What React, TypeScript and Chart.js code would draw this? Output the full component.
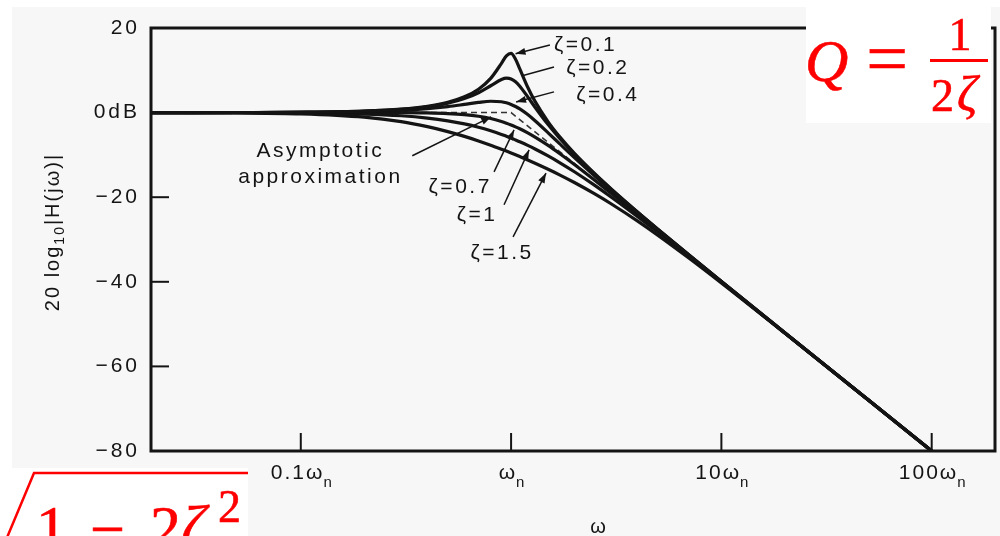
import React, { useEffect, useRef } from 'react';
import { Chart, registerables } from 'chart.js';

Chart.register(...registerables);

// ---- data ----
const frequencies = [0.0194, 0.05, 0.1, 0.2, 0.3, 0.4, 0.5, 0.6, 0.7, 0.8, 0.9, 0.95, 1.0, 1.05, 1.1, 1.2, 1.3, 1.5, 1.7, 2, 2.5, 3, 4, 5, 7, 10, 20, 50, 100];
const zeta01 = [0.0, 0.02, 0.09, 0.35, 0.8, 1.48, 2.42, 3.73, 5.53, 8.09, 11.64, 13.41, 13.98, 12.63, 10.34, 6.0, 2.65, -2.18, -5.67, -9.62, -14.44, -18.09, -23.53, -27.61, -33.63, -39.92, -52.02, -67.96, -80.0];
const zeta02 = [0.0, 0.02, 0.08, 0.33, 0.74, 1.36, 2.2, 3.31, 4.7, 6.35, 7.81, 8.13, 7.96, 7.28, 6.24, 3.73, 1.27, -2.84, -6.06, -9.84, -14.56, -18.16, -23.57, -27.63, -33.64, -39.92, -52.02, -67.96, -80.0];
const zeta04 = [0.0, 0.02, 0.06, 0.24, 0.53, 0.93, 1.41, 1.94, 2.41, 2.68, 2.56, 2.31, 1.94, 1.45, 0.87, -0.47, -1.93, -4.78, -7.34, -10.63, -14.99, -18.44, -23.72, -27.72, -33.68, -39.94, -52.03, -67.96, -80.0];
const zeta07 = [0.0, 0.0, 0.0, 0.0, -0.02, -0.08, -0.22, -0.47, -0.87, -1.41, -2.11, -2.5, -2.92, -3.37, -3.83, -4.79, -5.79, -7.76, -9.66, -12.26, -16.0, -19.12, -24.09, -27.96, -33.8, -40.0, -52.04, -67.96, -80.0];
const zeta10 = [0.0, -0.02, -0.09, -0.34, -0.75, -1.29, -1.94, -2.67, -3.46, -4.3, -5.15, -5.59, -6.02, -6.46, -6.89, -7.75, -8.6, -10.24, -11.8, -13.98, -17.21, -20.0, -24.61, -28.3, -33.98, -40.09, -52.06, -67.96, -80.0];
const zeta15 = [-0.01, -0.08, -0.29, -1.08, -2.14, -3.32, -4.49, -5.62, -6.69, -7.7, -8.65, -9.1, -9.54, -9.97, -10.39, -11.19, -11.96, -13.39, -14.71, -16.53, -19.23, -21.61, -25.67, -29.04, -34.39, -40.29, -52.12, -67.97, -80.0];
const asymptoteFreqs = [0.0194, 1, 100];
const asymptoteDb = [0, 0, -80];

const yTickValues = [20, 0, -20, -40, -60, -80];
const yTickLabels = ['20', '0dB', '\u221220', '\u221240', '\u221260', '\u221280'];
const xTickValues = [0.1, 1, 10, 100];
const xTickPrefixes = ['0.1', '', '10', '100'];
const xTickSymbol = '\u03c9';
const xTickSubscript = 'n';
const xTitle = '\u03c9';
const yTitleRuns = [
  { t: '20 log', sub: false },
  { t: '10', sub: true },
  { t: '|H(j\u03c9)|', sub: false },
];

// annotations anchored in data coordinates [frequency, dB]
const curveLabels = [
  { lines: ['\u03b6=0.1'], at: [1.6, 16.0], align: 'left', from: [1.53, 16.0], to: [1.05, 13.9], head: true },
  { lines: ['\u03b6=0.2'], at: [1.83, 10.6], align: 'left', from: [1.6, 10.8], to: [1.13, 8.7], head: false },
  { lines: ['\u03b6=0.4'], at: [2.04, 4.2], align: 'left', from: [1.6, 4.9], to: [1.056, 2.5], head: true },
  { lines: ['\u03b6=0.7'], at: [0.573, -17.6], align: 'center', from: [0.83, -14.0], to: [1.033, -4.1], head: true },
  { lines: ['\u03b6=1'], at: [0.689, -24.2], align: 'center', from: [0.926, -21.8], to: [1.218, -8.8], head: true },
  { lines: ['\u03b6=1.5'], at: [0.906, -33.2], align: 'center', from: [1.022, -29.4], to: [1.466, -14.3], head: true },
  { lines: ['Asymptotic', 'approximation'], at: [0.124, -9.2], align: 'center', from: [0.339, -10.2], to: [0.804, -1.0], head: true },
];

const W = 1000;
const H = 536;
const INK = '#141414';
const SANS = '"Liberation Sans", Arial, Helvetica, sans-serif';
const SERIF = '"Liberation Serif", "DejaVu Serif", serif';

function makeSeries(values: number[]) {
  return frequencies.map((f, i) => ({ x: f, y: values[i] }));
}

function drawArrow(ctx: CanvasRenderingContext2D, x1: number, y1: number, x2: number, y2: number, head: boolean) {
  ctx.save();
  ctx.strokeStyle = INK;
  ctx.fillStyle = INK;
  ctx.lineWidth = 1.5;
  ctx.beginPath();
  ctx.moveTo(x1, y1);
  ctx.lineTo(x2, y2);
  ctx.stroke();
  if (head) {
    const a = Math.atan2(y2 - y1, x2 - x1);
    const L = 10;
    const w = 3.5;
    ctx.beginPath();
    ctx.moveTo(x2, y2);
    ctx.lineTo(x2 - L * Math.cos(a) + w * Math.sin(a), y2 - L * Math.sin(a) - w * Math.cos(a));
    ctx.lineTo(x2 - L * Math.cos(a) - w * Math.sin(a), y2 - L * Math.sin(a) + w * Math.cos(a));
    ctx.closePath();
    ctx.fill();
  }
  ctx.restore();
}

// text with an optional thin outline to match heavier scanned lettering
function inkText(ctx: CanvasRenderingContext2D, s: string, x: number, y: number, outline = 0) {
  ctx.fillText(s, x, y);
  if (outline > 0) {
    ctx.lineWidth = outline;
    ctx.strokeStyle = ctx.fillStyle as string;
    ctx.strokeText(s, x, y);
  }
}

const decoPlugin = {
  id: 'deco',
  beforeDraw(chart: any) {
    const ctx: CanvasRenderingContext2D = chart.ctx;
    ctx.save();
    ctx.fillStyle = '#ffffff';
    ctx.fillRect(0, 0, W, H);
    ctx.fillStyle = '#f7f7f7';
    ctx.fillRect(12, 7, W - 12, H - 7);
    ctx.restore();
    (ctx as any).letterSpacing = '3px';
  },
  afterDraw(chart: any) {
    const ctx: CanvasRenderingContext2D = chart.ctx;
    const xs = chart.scales.x;
    const ys = chart.scales.y;
    const area = chart.chartArea;
    const px = (v: number) => xs.getPixelForValue(v);
    const py = (v: number) => ys.getPixelForValue(v);

    ctx.save();
    (ctx as any).letterSpacing = '0px';

    // frame
    ctx.strokeStyle = INK;
    ctx.lineWidth = 3;
    ctx.strokeRect(area.left, area.top, area.right - area.left, area.bottom - area.top);

    // inward ticks
    ctx.lineWidth = 2;
    [-20, -40, -60].forEach((v) => {
      ctx.beginPath();
      ctx.moveTo(area.left, py(v));
      ctx.lineTo(area.left + 18, py(v));
      ctx.stroke();
    });
    xTickValues.forEach((v) => {
      ctx.beginPath();
      ctx.moveTo(px(v), area.bottom);
      ctx.lineTo(px(v), area.bottom - 18);
      ctx.stroke();
    });

    // x tick labels with subscript
    ctx.fillStyle = INK;
    ctx.textBaseline = 'alphabetic';
    ctx.textAlign = 'left';
    xTickValues.forEach((v, i) => {
      (ctx as any).letterSpacing = '2px';
      ctx.font = `21px ${SANS}`;
      const main = xTickPrefixes[i] + xTickSymbol;
      const mw = ctx.measureText(main).width;
      ctx.font = `15px ${SANS}`;
      const sw = ctx.measureText(xTickSubscript).width;
      const total = mw + sw;
      const x0 = px(v) - total / 2 + 2;
      ctx.font = `21px ${SANS}`;
      inkText(ctx, main, x0, 479);
      ctx.font = `15px ${SANS}`;
      inkText(ctx, xTickSubscript, x0 + mw - 1, 487);
    });

    // x title
    (ctx as any).letterSpacing = '0px';
    ctx.font = `20px ${SANS}`;
    ctx.textAlign = 'center';
    inkText(ctx, xTitle, 598, 533);

    // y title (rotated, with subscript)
    ctx.save();
    ctx.translate(59, 232);
    ctx.rotate(-Math.PI / 2);
    (ctx as any).letterSpacing = '2px';
    ctx.textAlign = 'left';
    let tw = 0;
    yTitleRuns.forEach((r) => {
      ctx.font = r.sub ? `14px ${SANS}` : `20px ${SANS}`;
      tw += ctx.measureText(r.t).width;
    });
    let cx = -tw / 2;
    yTitleRuns.forEach((r) => {
      ctx.font = r.sub ? `14px ${SANS}` : `20px ${SANS}`;
      inkText(ctx, r.t, cx, r.sub ? 5 : 0);
      cx += ctx.measureText(r.t).width;
    });
    ctx.restore();

    // curve labels and leader lines
    curveLabels.forEach((a) => {
      drawArrow(ctx, px(a.from[0]), py(a.from[1]), px(a.to[0]), py(a.to[1]), a.head);
      ctx.save();
      (ctx as any).letterSpacing = '2.5px';
      ctx.font = `21px ${SANS}`;
      ctx.fillStyle = INK;
      ctx.textAlign = a.align as CanvasTextAlign;
      ctx.textBaseline = 'middle';
      a.lines.forEach((line, k) => {
        inkText(ctx, line, px(a.at[0]), py(a.at[1]) + k * 26);
      });
      ctx.restore();
    });

    // Q formula box (top right)
    (ctx as any).letterSpacing = '0px';
    ctx.fillStyle = '#ffffff';
    ctx.fillRect(806, 0, 185, 123);
    ctx.fillStyle = '#ff0000';
    ctx.textAlign = 'left';
    ctx.textBaseline = 'alphabetic';
    ctx.font = `italic 60px ${SERIF}`;
    inkText(ctx, 'Q', 805, 81, 0.6);
    ctx.font = `74px ${SERIF}`;
    ctx.textAlign = 'center';
    inkText(ctx, '=', 887, 83, 0.6);
    ctx.fillRect(930, 59, 58, 3);
    ctx.font = `46px ${SERIF}`;
    inkText(ctx, '1', 960, 50, 0.6);
    ctx.textAlign = 'left';
    inkText(ctx, '2', 931, 111, 0.6);
    ctx.font = `italic 50px ${SERIF}`;
    inkText(ctx, '\u03b6', 957, 111, 0.6);

    // sqrt formula box (bottom left)
    ctx.fillStyle = '#ffffff';
    ctx.fillRect(0, 468, 248, 68);
    ctx.strokeStyle = '#ff0000';
    ctx.lineWidth = 2.5;
    ctx.beginPath();
    ctx.moveTo(6, 540);
    ctx.lineTo(34, 473);
    ctx.lineTo(248, 473);
    ctx.stroke();
    ctx.fillStyle = '#ff0000';
    ctx.font = `62px ${SERIF}`;
    inkText(ctx, '1', 36, 548, 0.6);
    inkText(ctx, '\u2212', 90, 550, 0.6);
    inkText(ctx, '2', 150, 548, 0.6);
    ctx.font = `italic 62px ${SERIF}`;
    inkText(ctx, '\u03b6', 181, 548, 0.6);
    ctx.font = `46px ${SERIF}`;
    inkText(ctx, '2', 218, 522, 0.6);

    ctx.restore();
  },
};

export default function App() {
  const ref = useRef<HTMLCanvasElement>(null);
  useEffect(() => {
    const lineStyle = {
      borderColor: INK,
      borderWidth: 3.2,
      pointRadius: 0,
      fill: false,
      cubicInterpolationMode: 'monotone' as const,
    };
    const chart = new Chart(ref.current as HTMLCanvasElement, {
      type: 'line',
      data: {
        datasets: [
          { label: 'ζ=0.1', data: makeSeries(zeta01), ...lineStyle },
          { label: 'ζ=0.2', data: makeSeries(zeta02), ...lineStyle },
          { label: 'ζ=0.4', data: makeSeries(zeta04), ...lineStyle },
          { label: 'ζ=0.7', data: makeSeries(zeta07), ...lineStyle },
          { label: 'ζ=1', data: makeSeries(zeta10), ...lineStyle },
          { label: 'ζ=1.5', data: makeSeries(zeta15), ...lineStyle },
          {
            label: 'Asymptotic approximation',
            data: asymptoteFreqs.map((f, i) => ({ x: f, y: asymptoteDb[i] })),
            borderColor: '#333333',
            borderWidth: 1.5,
            borderDash: [6, 4],
            pointRadius: 0,
            fill: false,
            tension: 0,
          },
        ],
      },
      options: {
        responsive: false,
        animation: false,
        devicePixelRatio: 1,
        layout: { padding: { left: 0, top: 28, right: 5, bottom: 0 } },
        plugins: { legend: { display: false }, tooltip: { enabled: false } },
        scales: {
          x: {
            type: 'logarithmic',
            min: 0.0194,
            max: 200,
            grid: { display: false, drawTicks: false },
            border: { display: false },
            ticks: { display: false },
            afterFit: (scale: any) => {
              scale.height = 85;
            },
          },
          y: {
            type: 'linear',
            min: -80,
            max: 20,
            grid: { display: false, drawTicks: false },
            border: { display: false },
            afterBuildTicks: (scale: any) => {
              scale.ticks = yTickValues.map((v) => ({ value: v }));
            },
            ticks: {
              color: INK,
              font: { family: SANS, size: 21 },
              padding: 11,
              callback: (v: any) => {
                const i = yTickValues.indexOf(Number(v));
                return i >= 0 ? yTickLabels[i] : '';
              },
            },
            afterFit: (scale: any) => {
              scale.width = 151;
            },
          },
        },
      },
      plugins: [decoPlugin],
    } as any);
    return () => chart.destroy();
  }, []);
  return (
    <canvas
      ref={ref}
      width={W}
      height={H}
      style={{ position: 'fixed', left: 0, top: 0, width: W, height: H, display: 'block' }}
    />
  );
}
